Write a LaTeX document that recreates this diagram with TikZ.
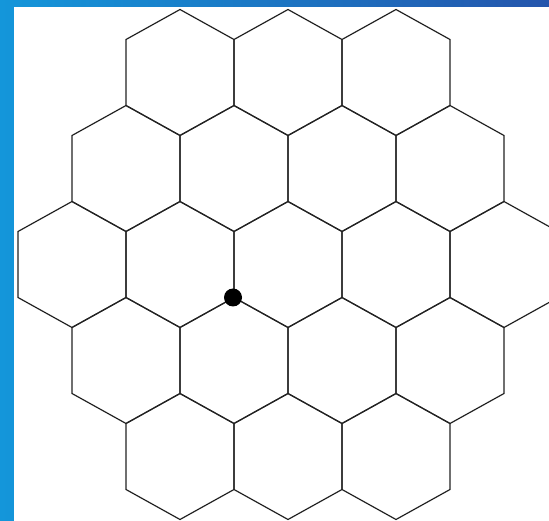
\documentclass[tikz,border=0pt]{standalone}
\definecolor{bgL}{HTML}{1496DA}
\definecolor{bgR}{HTML}{2455AC}
\definecolor{edge}{HTML}{222222}
\tikzset{
  hexline/.style={draw=edge, line width=1.2pt, line join=miter},
  vertexdot/.style={circle, fill=black, minimum size=18pt, inner sep=0pt}
}
\begin{document}
\begin{tikzpicture}[x=1pt,y=-1pt]
\useasboundingbox (0,0) rectangle (549,521);
\shade[left color=bgL, right color=bgR] (0,0) rectangle (549,521);
\fill[white] (14,7) rectangle (549,521);
\begin{scope}
\clip (14,7) rectangle (549,521);
\foreach \cx/\cy in {180/72.5,288/72.5,396/72.5,
                     126/168.5,234/168.5,342/168.5,450/168.5,
                     72/264.5,180/264.5,288/264.5,396/264.5,504/264.5,
                     126/360.5,234/360.5,342/360.5,450/360.5,
                     180/456.5,288/456.5,396/456.5}
  \draw[hexline] (\cx,\cy) ++(0,-63) -- ++(54,30) -- ++(0,66) -- ++(-54,30) -- ++(-54,-30) -- ++(0,-66) -- cycle;
\end{scope}
\node[vertexdot] (dot) at (233,297.5) {};
\end{tikzpicture}
\end{document}
